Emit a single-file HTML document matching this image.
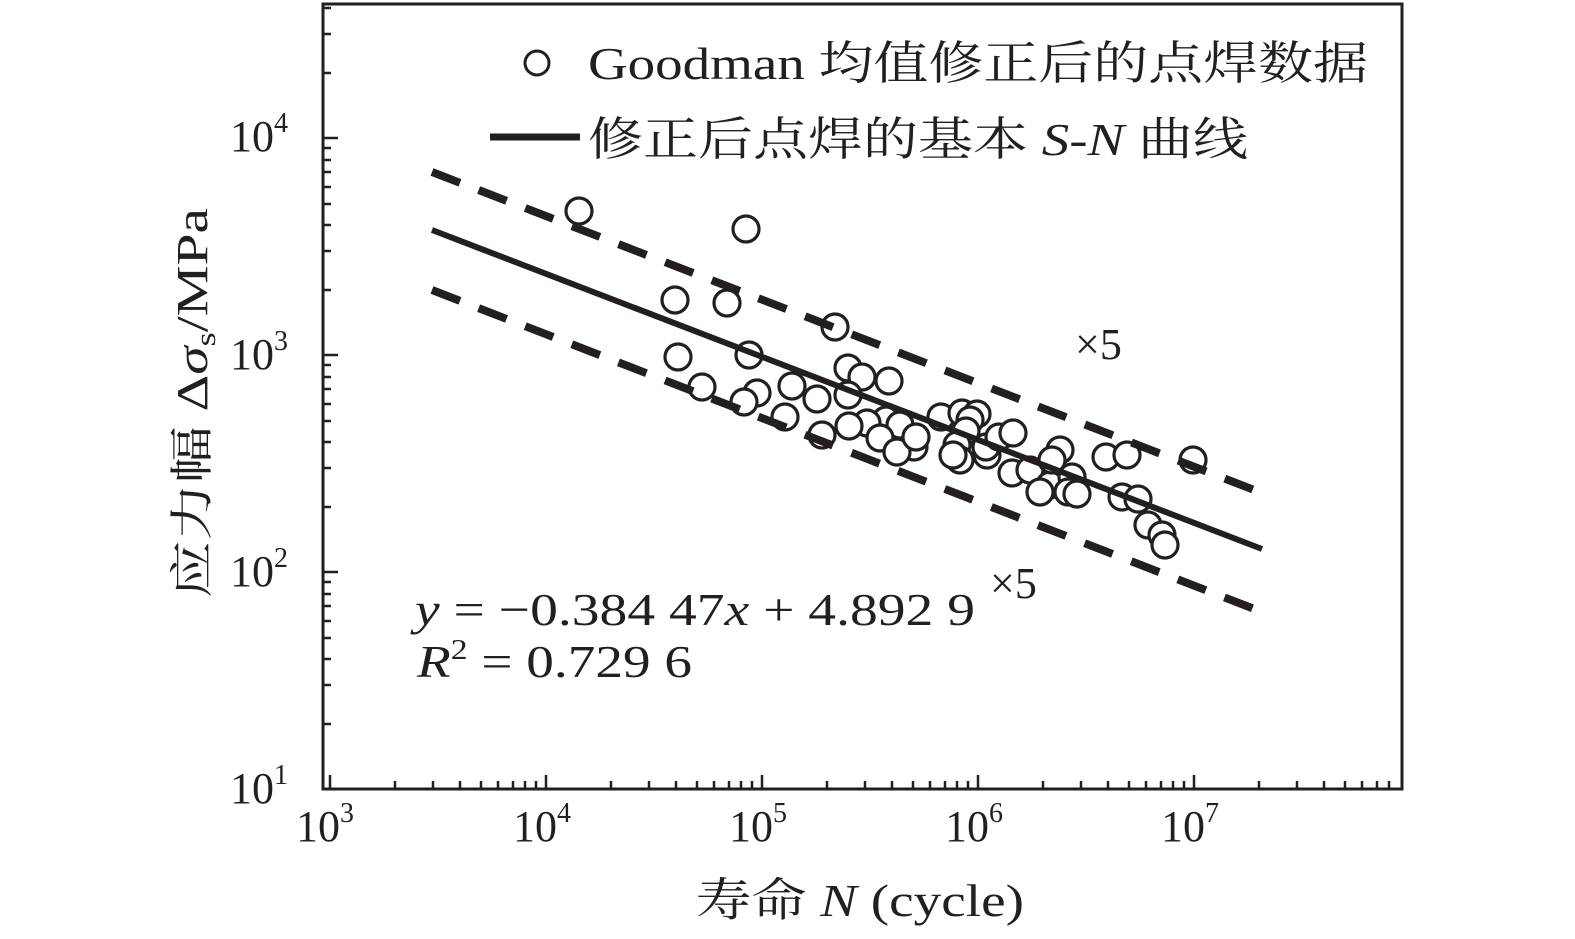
<!DOCTYPE html>
<html><head><meta charset="utf-8"><style>
html,body{margin:0;padding:0;background:#fff;}
svg{display:block;}
text{font-family:"Liberation Serif","Noto Serif CJK SC",serif;fill:#231f20;}
</style></head><body>
<svg width="1575" height="939" viewBox="0 0 1575 939" xmlns="http://www.w3.org/2000/svg">
<g stroke="#231f20" fill="none">
<rect x="323" y="4" width="1079" height="785" stroke-width="3"/>
<g stroke-width="2.5" id="ticks">
<path d="M330 789v-14M546 789v-14M762 789v-14M978 789v-14M1194 789v-14"/>
<path d="M395 789v-8M433 789v-8M460 789v-8M481 789v-8M498 789v-8M513 789v-8M525 789v-8M536 789v-8
M611 789v-8M649 789v-8M676 789v-8M697 789v-8M714 789v-8M729 789v-8M741 789v-8M752 789v-8
M827 789v-8M865 789v-8M892 789v-8M913 789v-8M930 789v-8M945 789v-8M957 789v-8M968 789v-8
M1043 789v-8M1081 789v-8M1108 789v-8M1129 789v-8M1146 789v-8M1161 789v-8M1173 789v-8M1184 789v-8
M1259 789v-8M1297 789v-8M1324 789v-8M1345 789v-8M1362 789v-8M1377 789v-8M1389 789v-8"/>
<path d="M323 789h15M323 572h15M323 355h15M323 138h15"/>
<path d="M323 724h8M323 685h8M323 659h8M323 638h8M323 621h8M323 606h8M323 594h8M323 582h8
M323 507h8M323 468h8M323 442h8M323 421h8M323 404h8M323 389h8M323 377h8M323 365h8
M323 290h8M323 251h8M323 225h8M323 204h8M323 187h8M323 172h8M323 160h8M323 148h8
M323 73h8M323 34h8M323 8h8"/>
</g>
<g stroke-width="3.2" fill="#fff">
<circle cx="579" cy="211" r="13"/><circle cx="746" cy="229" r="13"/><circle cx="675" cy="300" r="13"/><circle cx="727" cy="303" r="13"/><circle cx="835" cy="327" r="13"/><circle cx="678" cy="357" r="13"/><circle cx="749" cy="355" r="13"/><circle cx="702" cy="387" r="13"/><circle cx="757" cy="393" r="13"/><circle cx="744" cy="402" r="13"/><circle cx="792" cy="386" r="13"/><circle cx="817" cy="399" r="13"/><circle cx="785" cy="417" r="13"/><circle cx="848" cy="368" r="13"/><circle cx="862" cy="377" r="13"/><circle cx="889" cy="381" r="13"/><circle cx="848" cy="395" r="13"/><circle cx="886" cy="420" r="13"/><circle cx="867" cy="423" r="13"/><circle cx="849" cy="426" r="13"/><circle cx="900" cy="425" r="13"/><circle cx="880" cy="438" r="13"/><circle cx="914" cy="447" r="13"/><circle cx="897" cy="452" r="13"/><circle cx="916" cy="437" r="13"/><circle cx="941" cy="417" r="13"/><circle cx="962" cy="413" r="13"/><circle cx="977" cy="414" r="13"/><circle cx="970" cy="420" r="13"/><circle cx="966" cy="431" r="13"/><circle cx="957" cy="445" r="13"/><circle cx="960" cy="460" r="13"/><circle cx="953" cy="455" r="13"/><circle cx="987" cy="455" r="13"/><circle cx="986" cy="447" r="13"/><circle cx="999" cy="437" r="13"/><circle cx="1013" cy="433" r="13"/><circle cx="1012" cy="473" r="13"/><circle cx="1030" cy="470" r="13"/><circle cx="1050" cy="485" r="13"/><circle cx="1040" cy="492" r="13"/><circle cx="1060" cy="450" r="13"/><circle cx="1052" cy="460" r="13"/><circle cx="1072" cy="477" r="13"/><circle cx="1068" cy="492" r="13"/><circle cx="1077" cy="494" r="13"/><circle cx="1106" cy="457" r="13"/><circle cx="1127" cy="455" r="13"/><circle cx="1122" cy="497" r="13"/><circle cx="1138" cy="499" r="13"/><circle cx="1148" cy="525" r="13"/><circle cx="1162" cy="535" r="13"/><circle cx="1165" cy="545" r="13"/><circle cx="1193" cy="460" r="13"/><circle cx="822" cy="435" r="13"/>
</g>
<line x1="432" y1="230" x2="1262" y2="549" stroke-width="6"/>
<line x1="432" y1="172" x2="1262" y2="493" stroke-width="8" stroke-dasharray="30 20"/>
<line x1="432" y1="290" x2="1262" y2="612" stroke-width="8" stroke-dasharray="30 20"/>
<circle cx="537" cy="63" r="12" stroke-width="3"/>
<line x1="490" y1="137" x2="580" y2="137" stroke-width="7"/>
</g>
<text x="588" y="79" font-size="46" textLength="780" lengthAdjust="spacingAndGlyphs">Goodman 均值修正后的点焊数据</text>
<text x="588" y="155" font-size="46" textLength="660" lengthAdjust="spacingAndGlyphs">修正后点焊的基本 <tspan font-style="italic">S</tspan>-<tspan font-style="italic">N</tspan> 曲线</text>
<text x="1075" y="359" font-size="44">×5</text>
<text x="990" y="598" font-size="44">×5</text>
<text x="415" y="625" font-size="46" textLength="560" lengthAdjust="spacingAndGlyphs"><tspan font-style="italic">y</tspan> = −0.384 47<tspan font-style="italic">x</tspan> + 4.892 9</text>
<text x="417" y="677" font-size="46" textLength="275" lengthAdjust="spacingAndGlyphs"><tspan font-style="italic">R</tspan><tspan font-size="28" dy="-18">2</tspan><tspan dy="18"> = 0.729 6</tspan></text>
<g font-size="44">
<text x="230" y="151">10<tspan font-size="28" dy="-19">4</tspan></text>
<text x="230" y="369">10<tspan font-size="28" dy="-19">3</tspan></text>
<text x="230" y="586">10<tspan font-size="28" dy="-19">2</tspan></text>
<text x="230" y="803">10<tspan font-size="28" dy="-19">1</tspan></text>
<text x="296" y="841">10<tspan font-size="28" dy="-19">3</tspan></text>
<text x="513" y="841">10<tspan font-size="28" dy="-19">4</tspan></text>
<text x="729" y="841">10<tspan font-size="28" dy="-19">5</tspan></text>
<text x="945" y="841">10<tspan font-size="28" dy="-19">6</tspan></text>
<text x="1161" y="841">10<tspan font-size="28" dy="-19">7</tspan></text>
</g>
<text x="696" y="916" font-size="46" textLength="328" lengthAdjust="spacingAndGlyphs">寿命 <tspan font-style="italic">N</tspan> (cycle)</text>
<text transform="translate(207,598) rotate(-90)" font-size="44" textLength="390" lengthAdjust="spacingAndGlyphs">应力幅 Δ<tspan font-style="italic">σ</tspan><tspan font-size="28" dy="8">s</tspan><tspan dy="-8">/MPa</tspan></text>
</svg>
</body></html>
